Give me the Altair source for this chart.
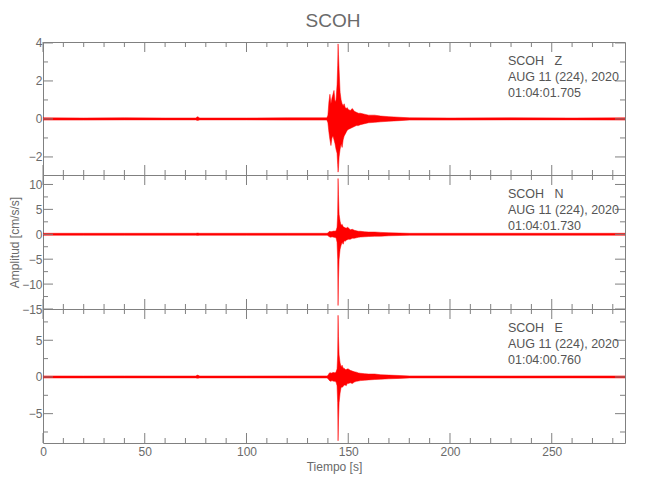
import altair as alt
import pandas as pd

# ---- data (envelope of each trace) ----
time_s = [0, 20, 40, 60, 75, 76, 77, 100, 120, 139.5, 140.0, 140.5, 141.0, 141.5,
          142.0, 142.5, 143.0, 143.5, 144.0, 144.5, 144.8, 145.0, 145.2, 145.5,
          146.0, 146.5, 147.0, 147.5, 148.0, 148.5, 149.0, 149.5, 150, 151, 152,
          153, 154, 155, 156, 158, 160, 163, 166, 170, 175, 180, 200, 230, 260, 286]

z_hi = [.06, .05, .06, .05, .05, .12, .05, .05, .06, .06, .20, .9, 1.3, .8,
        1.1, 1.3, 1.5, .9, 1.0, 1.8, 2.8, 3.95, 3.4, 2.6,
        1.4, 1.0, .8, .7, .8, .6, .55, .6, .5, .45, .55,
        .4, .35, .3, .3, .25, .2, .2, .15, .12, .09, .06, .05, .06, .05, .06]
z_lo = [-.06, -.06, -.05, -.05, -.05, -.08, -.05, -.05, -.06, -.06, -.2, -.7, -1.1, -1.4,
        -1.0, -.9, -1.1, -1.3, -1.6, -1.8, -2.4, -2.8, -2.6, -2.0,
        -1.6, -1.3, -1.5, -1.1, -.9, -.8, -.7, -.6, -.55, -.5, -.45,
        -.4, -.35, -.35, -.3, -.25, -.2, -.18, -.15, -.12, -.09, -.06, -.06, -.05, -.05, -.06]

n_hi = [.2, .2, .2, .2, .2, .25, .2, .2, .2, .2, .25, .5, .6, .5,
        .55, .6, .65, .6, .7, 1.4, 4.0, 11.2, 8.0, 4.0,
        2.6, 1.8, 2.0, 1.5, 1.4, 1.3, 1.2, 1.4, 1.3, .9, 1.0,
        .8, .7, .6, .6, .5, .45, .45, .38, .3, .25, .2, .2, .2, .2, .2]
n_lo = [-.2, -.2, -.2, -.2, -.2, -.22, -.2, -.2, -.2, -.2, -.25, -.45, -.55, -.6,
        -.5, -.55, -.6, -.65, -.7, -1.6, -5.0, -14.3, -9.0, -5.0,
        -3.0, -2.2, -1.6, -2.0, -1.3, -1.4, -1.2, -1.1, -1.0, -1.0, -.8,
        -.8, -.7, -.6, -.55, -.5, -.45, -.4, -.38, -.3, -.25, -.2, -.2, -.2, -.2, -.2]

e_hi = [.14, .13, .14, .13, .13, .25, .13, .13, .14, .14, .2, .45, .6, .5,
        .55, .6, .6, .55, .7, 1.1, 3.0, 8.4, 5.5, 3.0,
        1.9, 1.4, 1.6, 1.2, 1.2, 1.0, 1.0, 1.1, 1.1, .9, .8,
        .7, .65, .55, .5, .45, .4, .4, .3, .25, .2, .14, .14, .13, .14, .14]
e_lo = [-.14, -.14, -.13, -.13, -.13, -.18, -.13, -.13, -.14, -.14, -.2, -.4, -.55, -.6,
        -.5, -.55, -.6, -.6, -.7, -1.2, -3.5, -8.7, -6.0, -3.5,
        -2.2, -1.4, -1.4, -1.3, -1.1, -1.1, -1.2, -.9, -.9, -.8, -.9,
        -.7, -.6, -.55, -.5, -.45, -.4, -.35, -.3, -.25, -.2, -.14, -.13, -.14, -.13, -.14]

x_domain = [0, 286]
x_major = [0, 50, 100, 150, 200, 250]
x_minor = [v for v in range(10, 290, 10) if v % 50 != 0]

z_domain = [-2.95, 4.05]
z_major = [-2, 0, 2, 4]
z_minor = [-1, 1, 3]
n_domain = [-15, 11.9]
n_major = [-15, -10, -5, 0, 5, 10]
n_minor = [-12.5, -7.5, -2.5, 2.5, 7.5]
e_domain = [-9.0, 9.26]
e_major = [-5, 0, 5]
e_minor = [-7.5, -2.5, 2.5, 7.5]

station = "SCOH"
components = ["Z", "N", "E"]
date_line = "AUG 11 (224), 2020"
start_times = ["01:04:01.705", "01:04:01.730", "01:04:00.760"]

# ---- styling ----
FONT = "Liberation Sans Narrow, Liberation Sans, Arial, sans-serif"
GREY = "#808080"
LABEL = "#6a6a6a"
W = 582
MAJ, MIN = 10, 5


def panel(hi, lo, ydom, ymaj, ymin, H, comp, tstart, show_x, ytitle):
    df = pd.DataFrame({"t": time_s, "hi": hi, "lo": lo})
    xs = alt.Scale(domain=x_domain, nice=False, zero=False)
    ys = alt.Scale(domain=ydom, nice=False, zero=False)
    if show_x:
        xaxis = alt.Axis(values=x_major, ticks=False, domain=False, grid=False,
                         labelFlush=False, labelPadding=3, title="Tiempo [s]",
                         titlePadding=4)
    else:
        xaxis = None
    yaxis = alt.Axis(values=ymaj, ticks=False, domain=False, grid=False,
                     labelFlush=False, labelPadding=1, title=ytitle, titlePadding=0)

    wave = alt.Chart(df).mark_area(color="#ff0000", stroke="#ff0000",
                                   strokeWidth=0.5, clip=True).encode(
        x=alt.X("t:Q", scale=xs, axis=xaxis),
        y=alt.Y("lo:Q", scale=ys, axis=yaxis),
        y2="hi:Q",
    )

    def yt(vals, x0, x1):
        return alt.Chart(pd.DataFrame({"v": vals})).mark_rule(color=GREY, strokeWidth=1).encode(
            y=alt.Y("v:Q", scale=ys, axis=yaxis), x=alt.value(x0), x2=alt.value(x1))

    def xt(vals, y0, y1):
        return alt.Chart(pd.DataFrame({"v": vals})).mark_rule(color=GREY, strokeWidth=1).encode(
            x=alt.X("v:Q", scale=xs, axis=xaxis), y=alt.value(y0), y2=alt.value(y1))

    ticks = [
        yt(ymaj, 0, MAJ), yt(ymin, 0, MIN), yt(ymaj, W, W - MAJ), yt(ymin, W, W - MIN),
        xt(x_major, 0, MAJ), xt(x_minor, 0, MIN), xt(x_major, H, H - MAJ), xt(x_minor, H, H - MIN),
    ]

    lines = [station + "\u00a0\u00a0\u00a0" + comp, date_line, tstart]
    texts = []
    for i, s in enumerate(lines):
        texts.append(alt.Chart(pd.DataFrame({"s": [s]})).mark_text(
            align="left", baseline="middle", font=FONT, fontSize=12.5, color="#555555").encode(
            text="s:N", x=alt.value(465), y=alt.value(19 + 16 * i)))

    return alt.layer(wave, *ticks, *texts).properties(width=W, height=H)


p1 = panel(z_hi, z_lo, z_domain, z_major, z_minor, 133, components[0], start_times[0], False, None)
p2 = panel(n_hi, n_lo, n_domain, n_major, n_minor, 134, components[1], start_times[1], False, "Amplitud [cm/s/s]")
p3 = panel(e_hi, e_lo, e_domain, e_major, e_minor, 134, components[2], start_times[2], True, None)

chart = alt.vconcat(p1, p2, p3, spacing=0, bounds="flush").properties(
    title=alt.TitleParams(text=station, fontSize=19, font=FONT, color=LABEL,
                          fontWeight="normal", anchor="middle", offset=5, dx=16),
    padding={"left": 0, "top": 4, "right": 5, "bottom": 5},
).configure_view(stroke=GREY, strokeWidth=1).configure_axis(
    labelFont=FONT, labelFontSize=12, labelColor=LABEL,
    titleFont=FONT, titleFontSize=12, titleColor=LABEL, titleFontWeight="normal",
).configure_concat(spacing=0)

chart.save("out.html", embed_options={"renderer": "svg", "actions": False})
